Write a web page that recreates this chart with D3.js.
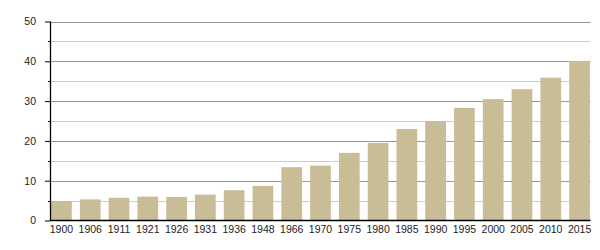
<!DOCTYPE html>
<html>
<head>
<meta charset="utf-8">
<script src="https://cdn.jsdelivr.net/npm/d3@7"></script>
<style>
  html, body { margin: 0; padding: 0; background: #fff; }
  svg { display: block; }
  text { font-family: "Liberation Sans", Arial, Helvetica, sans-serif; }
</style>
</head>
<body>
<svg id="chart" width="600" height="250"></svg>
<script>
const categories = ["1900","1906","1911","1921","1926","1931","1936","1948","1966","1970","1975","1980","1985","1990","1995","2000","2005","2010","2015"];
const values = [4.9, 5.3, 5.7, 6.0, 5.9, 6.5, 7.6, 8.7, 13.4, 13.8, 17.0, 19.5, 23.0, 25.0, 28.3, 30.5, 33.0, 35.9, 40.1];
const majorTicks = [0, 10, 20, 30, 40, 50];
const minorTicks = [5, 15, 25, 35, 45];

(function () {
const svg = d3.select("#chart");
const mLeft = 50, mRight = 590.5, mTop = 21.5, mBottom = 220.5;

const x = d3.scaleBand().domain(categories).range([mLeft + 0.5, mRight]).paddingInner(0.28).paddingOuter(0.02);
const y = d3.scaleLinear().domain([0, 50]).range([mBottom, mTop]);
const py = d => Math.round(y(d)) + 0.5;

// minor gridlines
svg.append("g").selectAll("line").data(minorTicks).join("line")
  .attr("x1", mLeft).attr("x2", mRight)
  .attr("y1", py).attr("y2", py)
  .attr("stroke", "#cccccc").attr("stroke-width", 1);
// major gridlines
svg.append("g").selectAll("line").data(majorTicks.filter(d => d > 0)).join("line")
  .attr("x1", mLeft).attr("x2", mRight)
  .attr("y1", py).attr("y2", py)
  .attr("stroke", "#9a9a9a").attr("stroke-width", 1);

// bars
svg.append("g").selectAll("rect").data(categories).join("rect")
  .attr("x", d => x(d))
  .attr("width", x.bandwidth())
  .attr("y", (d, i) => y(values[i]))
  .attr("height", (d, i) => y(0) - y(values[i]))
  .attr("fill", "#c9bd97");

// y axis major
const yAxis = svg.append("g").attr("transform", `translate(${mLeft},0)`)
  .call(d3.axisLeft(y).tickValues(majorTicks).tickSize(5).tickPadding(9).tickFormat(d3.format("d")));
yAxis.select(".domain").remove();
yAxis.selectAll("line").attr("stroke", "#000");
yAxis.selectAll("text").attr("font-size", "10.5px").attr("fill", "#222").attr("font-family", "'Liberation Sans', Arial, sans-serif");

// y axis minor ticks
svg.append("g").selectAll("line").data(minorTicks).join("line")
  .attr("x1", mLeft - 2).attr("x2", mLeft)
  .attr("y1", py).attr("y2", py)
  .attr("stroke", "#000");

// y axis line
svg.append("line").attr("x1", mLeft + 0.5).attr("x2", mLeft + 0.5)
  .attr("y1", mTop).attr("y2", mBottom).attr("stroke", "#000").attr("stroke-width", 1.3);

// x axis
const xAxis = svg.append("g").attr("transform", `translate(0,${mBottom})`)
  .call(d3.axisBottom(x).tickSize(0).tickPadding(5));
xAxis.select(".domain").remove();
xAxis.selectAll("text").attr("font-size", "10.5px").attr("fill", "#222").attr("font-family", "'Liberation Sans', Arial, sans-serif");
svg.append("line").attr("x1", mLeft).attr("x2", mRight)
  .attr("y1", mBottom).attr("y2", mBottom).attr("stroke", "#000").attr("stroke-width", 1.5);
})();
</script>
</body>
</html>
